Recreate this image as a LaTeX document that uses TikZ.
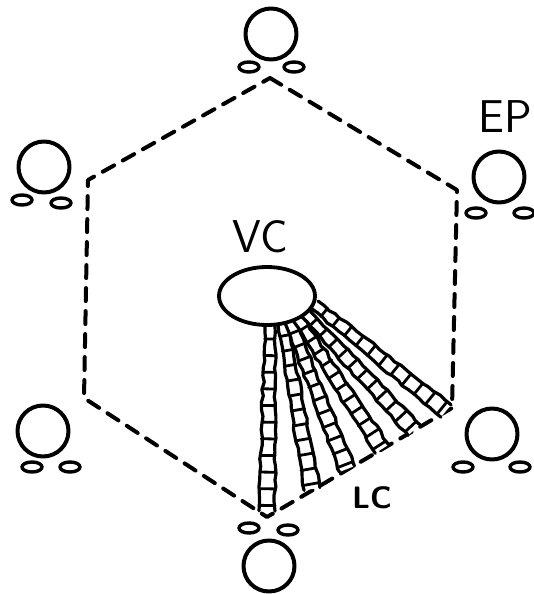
\documentclass[tikz,border=0pt]{standalone}
\usepackage{tikz}
\usetikzlibrary{calc,shapes.geometric,decorations.pathmorphing}

\begin{document}
\begin{tikzpicture}[x=1pt, y=-1pt, line cap=round, line join=round]
        % --- 1. Parameters ---
        \pgfmathsetseed{7}
        \def\wallIn{5}
        \def\wallOut{8}
        \tikzset{
            cell/.style={circle, draw, line width=4pt, minimum size=51pt, inner sep=0pt},
            pore/.style={line width=3.4pt},
            border/.style={line width=4pt, dash pattern=on 13pt off 10pt},
            wall/.style={line width=3.2pt, decorate,
                decoration={random steps, segment length=7pt, amplitude=1.1pt}},
            rung/.style={line width=2.8pt},
            tag/.style={font=\sffamily\fontsize{46}{46}\selectfont, inner sep=0pt}
        }
        \useasboundingbox (0,0) rectangle (533,594);
        % --- 2. Dashed hexagon ---
        \coordinate (T) at (270,78);
        \coordinate (UR) at (457,190);
        \coordinate (LR) at (452,408);
        \coordinate (B) at (267,517);
        \coordinate (LL) at (84,398);
        \coordinate (UL) at (88,180);
        \draw[border] (T) -- (UR) -- (LR) -- (B) -- (LL) -- (UL) -- cycle;
        % --- 3. Cells at the corners, each with two pores ---
        \foreach \n/\p/\a/\b in {epN/{271,34}/{-22,33}/{23,33},
                                 epNE/{499,177}/{-23,36}/{25,36},
                                 epNW/{44,167}/{-22,33}/{17,36},
                                 epSW/{43,431}/{-11,36}/{27,36},
                                 epSE/{492,434}/{-29,33}/{28,33},
                                 epS/{269,566}/{-20,-38}/{19,-36}} {
            \node[cell] (\n) at (\p) {};
            \draw[pore] ($(\n.center)+(\a)$) ellipse (10pt and 5pt);
            \draw[pore] ($(\n.center)+(\b)$) ellipse (10pt and 5pt);
        }
        % --- 4. Channels fanning out from the centre ---
        \foreach \sx/\sy/\ex/\ey [count=\i] in {270/326/267/511, 283/324/312/489,
                                                290/322/347/469, 298/319/382/449,
                                                306/314/414/430, 315/305/446/411} {
            \coordinate (s\i) at (\sx,\sy);
            \coordinate (e\i) at (\ex,\ey);
            \fill[white] ($(s\i)!\wallIn pt!90:(e\i)$) -- ($(e\i)!\wallOut pt!-90:(s\i)$)
                -- ($(e\i)!\wallOut pt!90:(s\i)$) -- ($(s\i)!\wallIn pt!-90:(e\i)$) -- cycle;
            \draw[wall] ($(s\i)!\wallIn pt!90:(e\i)$) -- ($(e\i)!\wallOut pt!-90:(s\i)$);
            \draw[wall] ($(s\i)!\wallIn pt!-90:(e\i)$) -- ($(e\i)!\wallOut pt!90:(s\i)$);
            \foreach \t in {0.07,0.16,...,0.97} {
                \pgfmathsetmacro\w{\wallIn+(\wallOut-\wallIn)*\t}
                \draw[rung] ($(s\i)!\t!(e\i)!\w pt!90:(e\i)$) -- ($(s\i)!\t!(e\i)!\w pt!-90:(e\i)$);
            }
        }
        % --- 5. Central body ---
        \node[ellipse, draw, fill=white, line width=3.8pt, minimum width=96pt,
              minimum height=58pt, inner sep=0pt] (vc) at (267,296) {};
        % --- 6. Labels ---
        \node[tag] (vc label) at (260,237) {VC};
        \node[tag] (ep label) at (505,117) {EP};
        \node[tag, font=\sffamily\bfseries\fontsize{31}{31}\selectfont] (lc label) at (372,498) {LC};
    \end{tikzpicture}
\end{document}
